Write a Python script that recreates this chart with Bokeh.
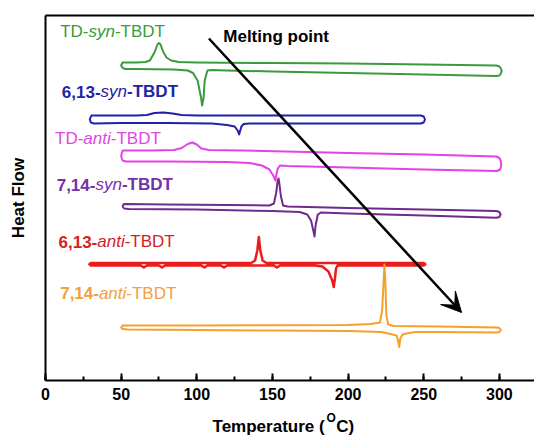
from bokeh.plotting import figure
from bokeh.layouts import column
from bokeh.models import Range1d, LinearAxis, FixedTicker, SingleIntervalTicker, Label, Arrow, VeeHead
from bokeh.embed import file_html
from bokeh.resources import INLINE

FONT = "Liberation Sans"

# ---------------- data (temperature in degC, heat flow in arbitrary units) ----------------
# TD-syn-TBDT (heating trace, right end, cooling trace, left end)
green_T = [51, 60, 66, 69, 72, 74, 75, 76, 78, 80, 83, 88, 100, 150, 200, 250, 298,
           300, 301, 301.5, 301, 300, 298,
           250, 200, 150, 120, 110, 107, 105.2, 104.5, 103.5, 102.8, 100.5, 97.5, 94, 85, 60, 53,
           51, 50, 50.6, 51]
green_HF = [316, 316, 316.5, 318, 326, 334, 335.5, 334, 326, 321, 318, 316.5, 316, 315.5, 315, 314, 313,
            312, 310, 307.5, 305, 303, 302.5,
            304, 305.5, 307, 308, 308.5, 308, 298, 281, 273, 281, 298, 305.5, 308, 309, 309.5, 309.5,
            310.5, 313, 315, 316]

# 6,13-syn-TBDT
blue_T = [30.5, 60, 67, 72, 78, 84, 90, 100, 150, 200, 248,
          250, 250.8, 250, 248,
          200, 150, 135, 131, 129.5, 128.5, 128, 127, 125, 120, 110, 80, 50, 32,
          30, 29.3, 30, 30.5]
blue_HF = [263, 263, 263.5, 265.5, 266, 265, 263.5, 263, 263, 263, 263,
           262, 259, 256, 255,
           255, 255, 255, 254.5, 252, 247, 244, 248, 252, 253.5, 255, 255.5, 255.5, 255,
           256, 259, 262, 263]

# TD-anti-TBDT
magenta_T = [51, 70, 85, 90, 94, 97, 100, 103, 108, 130, 200, 250, 298,
             300, 301, 301.2, 300.5, 298.5,
             250, 200, 160, 155, 153.5, 152.5, 152, 150.5, 148, 143, 135, 120, 80, 53,
             51, 50, 50.5, 51]
magenta_HF = [228, 228, 228.5, 230.5, 234.5, 236, 234, 230, 228.5, 228, 225.5, 224, 222,
              220.5, 217, 213, 209, 207.5,
              209, 211, 212.5, 213, 210, 203, 198, 203, 209, 213, 215.5, 216.5, 217, 217,
              218, 222, 226, 228]

# 7,14-syn-TBDT
purple_T = [52, 80, 120, 148, 151, 152.5, 153.5, 154, 154.5, 155.5, 157, 160, 200, 250, 298,
            300, 300.8, 300, 298,
            250, 200, 182, 180, 178.5, 177.8, 177, 175.5, 173, 168, 150, 100, 55,
            52, 51, 51.5, 52]
purple_HF = [174.5, 174, 173.5, 173, 175, 186, 198, 200, 196, 183, 173, 172, 170.5, 169, 167.5,
             166.5, 164, 161.5, 160.7,
             163, 165, 166, 164, 153, 142, 148, 158, 164, 166.5, 167.5, 169, 169.5,
             170, 172, 174, 174.5]

# 6,13-anti-TBDT
red_T = [30, 100, 136, 138.5, 140, 141, 142, 143.5, 146, 200, 250,
         251, 250,
         193, 192, 191.3, 190.5, 189.5, 187, 183, 178, 155, 153, 151, 120, 118, 116, 107, 105, 103,
         79, 77, 75, 67, 65, 63, 30,
         29, 30]
red_HF = [115.5, 115.5, 115.5, 118, 128, 141.5, 128, 118, 115.5, 115.5, 115.5,
          114.2, 113,
          113, 110, 100, 91.5, 98, 107, 112, 113, 113, 111, 113, 113, 111, 113, 113, 111, 113,
          113, 111, 113, 113, 111, 113, 113,
          114.2, 115.5]

# 7,14-anti-TBDT
orange_T = [51, 100, 150, 200, 215, 221, 222.5, 223.5, 224, 224.6, 225.3, 226.5, 230, 260, 298,
            300, 301, 300, 298,
            260, 245, 240, 236, 234.5, 233.8, 233, 232, 228, 222, 200, 150, 100, 55,
            51, 50, 51]
orange_HF = [53, 53, 53.2, 53.5, 54.5, 56, 68, 98, 114, 98, 63, 54, 52.5, 52, 51,
             50.5, 48.5, 46.5, 46,
             46.5, 46.5, 45.5, 44, 40, 31.5, 38, 43, 44.5, 46.5, 47.5, 48, 48.5, 49,
             49.5, 51, 53]

# melting-point arrow (start, end)
arrow_T = [108, 275]
arrow_HF = [340, 66]

x_ticks = [0, 50, 100, 150, 200, 250, 300]

# sample labels: (parts, colour, T, HF)
labels = [
    ([("TD-", "normal"), ("syn", "italic"), ("-TBDT", "normal")], "#3a9b3a", 9.7, 347.0),
    ([("6,13-", "bold"), ("syn", "italic"), ("-TBDT", "bold")], "#2424a6", 10.8, 287.0),
    ([("TD-", "normal"), ("anti", "italic"), ("-TBDT", "normal")], "#e048e0", 6.3, 240.5),
    ([("7,14-", "bold"), ("syn", "italic"), ("-TBDT", "bold")], "#7232a6", 7.4, 193.8),
    ([("6,13-", "bold"), ("anti", "italic"), ("-TBDT", "normal")], "#d42222", 8.6, 137.0),
    ([("7,14-", "bold"), ("anti", "italic"), ("-TBDT", "normal")], "#f0a040", 9.7, 85.5),
]

# ---------------- text width helper (Arial / Liberation Sans metrics) ----------------
REG = {'T': 611, 'D': 722, '-': 333, 's': 500, 'y': 500, 'n': 556, 'B': 667, 'a': 556, 't': 278,
       'i': 222, ',': 278, '(': 333, ')': 333, ' ': 278, 'C': 722, 'O': 778, 'e': 556, 'm': 833,
       'p': 556, 'r': 333, 'u': 556}
BOLD = {'T': 611, 'D': 722, '-': 333, 's': 556, 'y': 556, 'n': 611, 'B': 722, 'a': 556, 't': 333,
        'i': 278, ',': 278, '(': 333, ')': 333, ' ': 278, 'C': 722, 'O': 778, 'e': 556, 'm': 889,
        'p': 611, 'r': 389, 'u': 611}
for d in "0123456789":
    REG[d] = 556
    BOLD[d] = 556


def text_width(s, style, size):
    table = BOLD if "bold" in style else REG
    return sum(table.get(c, 556) for c in s) * size / 1000.0


LEFT = 45
PX_PER_T = 1.513
X_END = (534 - LEFT) / PX_PER_T

# ---------------- main figure ----------------
p = figure(width=534, height=406, x_range=Range1d(0, X_END), y_range=Range1d(-2, 363),
           output_backend="svg", toolbar_location=None,
           min_border_left=LEFT, min_border_right=0, min_border_top=15, min_border_bottom=26)
p.outline_line_color = None
p.xgrid.visible = False
p.ygrid.visible = False
p.background_fill_color = "white"
p.border_fill_color = "white"

xa = p.xaxis[0]
xa.ticker = SingleIntervalTicker(interval=50, num_minor_ticks=2)
xa.major_label_overrides = {t: str(t) for t in x_ticks}
xa.axis_line_width = 2
xa.major_tick_line_width = 2
xa.minor_tick_line_width = 2
xa.major_tick_in = 7
xa.major_tick_out = 0
xa.minor_tick_in = 4
xa.minor_tick_out = 0
xa.major_label_text_font = FONT
xa.major_label_text_font_style = "bold"
xa.major_label_text_font_size = "16px"
xa.major_label_text_color = "black"
xa.major_label_standoff = 7

ya = p.yaxis[0]
ya.ticker = FixedTicker(ticks=[])
ya.axis_line_width = 2
ya.major_tick_out = 0
ya.minor_tick_out = 0
ya.axis_label = "Heat Flow"
ya.axis_label_text_font = FONT
ya.axis_label_text_font_style = "bold"
ya.axis_label_text_font_size = "17px"
ya.axis_label_text_color = "black"
ya.axis_label_standoff = 18

top = LinearAxis(ticker=FixedTicker(ticks=[]), axis_line_width=2, major_tick_out=0,
                 minor_tick_out=0, major_label_text_font_size="0px")
p.add_layout(top, "above")

# curves
for T, HF, col, w in [(green_T, green_HF, "#3a9b3a", 2),
                      (blue_T, blue_HF, "#2020a8", 2),
                      (magenta_T, magenta_HF, "#e640e6", 2),
                      (purple_T, purple_HF, "#6e2a8c", 2),
                      (red_T, red_HF, "#ec1c1c", 2.5),
                      (orange_T, orange_HF, "#f5a02c", 2)]:
    p.line(T, HF, line_color=col, line_width=w, line_join="round", line_cap="round")

# arrow
p.add_layout(Arrow(x_start=arrow_T[0], y_start=arrow_HF[0], x_end=arrow_T[1], y_end=arrow_HF[1],
                   line_width=2.5, line_color="black",
                   end=VeeHead(size=20, fill_color="black", line_color="black")))
p.add_layout(Label(x=117.5, y=342.0, text="Melting point", text_font=FONT, text_font_style="bold",
                   text_font_size="17px", text_color="black", text_baseline="alphabetic"))

# sample labels
SIZE = 17
for parts, col, T, HF in labels:
    off = 0.0
    for txt, style in parts:
        p.add_layout(Label(x=T, y=HF, x_offset=off, text=txt, text_font=FONT, text_font_style=style,
                           text_font_size=f"{SIZE}px", text_color=col, text_baseline="alphabetic",
                           text_align="left"))
        off += text_width(txt, style, SIZE)

# ---------------- x-axis title strip (frame is aligned with the main plot's frame) ----------------
p2 = figure(width=534, height=32, x_range=Range1d(0, X_END), y_range=Range1d(0, 32),
            output_backend="svg", toolbar_location=None, min_border=0,
            min_border_left=LEFT, min_border_right=0,
            x_axis_location=None, y_axis_location=None)
p2.xgrid.visible = False
p2.ygrid.visible = False
p2.outline_line_color = None
p2.background_fill_color = "white"
p2.border_fill_color = "white"

t1 = "Temperature ("
w1 = text_width(t1, "bold", 17)
wO = text_width("O", "bold", 12)
base_T = 110.4
base_y = 12.0
p2.add_layout(Label(x=base_T, y=base_y, text=t1, text_font=FONT, text_font_style="bold",
                    text_font_size="17px", text_color="black", text_baseline="alphabetic"))
p2.add_layout(Label(x=base_T, y=base_y + 9, x_offset=w1 + 0.5, text="O", text_font=FONT,
                    text_font_style="bold", text_font_size="12px", text_color="black",
                    text_baseline="alphabetic"))
p2.add_layout(Label(x=base_T, y=base_y, x_offset=w1 + wO + 1, text="C)", text_font=FONT,
                    text_font_style="bold", text_font_size="17px", text_color="black",
                    text_baseline="alphabetic"))

layout = column(p, p2, spacing=0)
open("out.html", "w").write(file_html(layout, INLINE))
